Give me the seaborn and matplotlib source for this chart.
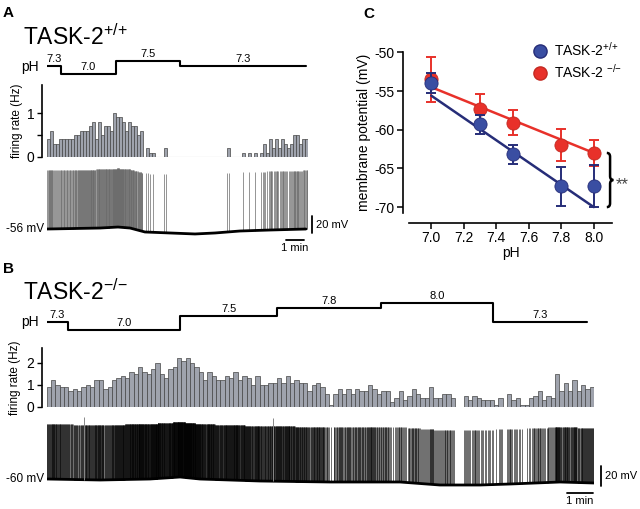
import numpy as np
import matplotlib
matplotlib.use("Agg")
import matplotlib.pyplot as plt
from matplotlib.lines import Line2D
from matplotlib.path import Path
from matplotlib.patches import PathPatch
import seaborn as sns

W, H = 640, 509
BIN = 10 / 60  # 10 s bins, in min

# A: TASK-2 +/+  (firing rate per 10 s bin, Hz)
a_rate = [0.4, 0.6, 0.3, 0.3, 0.4, 0.4, 0.4, 0.4, 0.4, 0.5, 0.5, 0.6, 0.6, 0.6, 0.7, 0.8,
          0.4, 0.8, 0.5, 0.7, 0.7, 0.6, 1.0, 0.9, 0.9, 0.8, 0.6, 0.8, 0.7, 0.7, 0.5, 0.6,
          0.0, 0.2, 0.1, 0.1, 0.0, 0.0, 0.0, 0.2,
          0, 0, 0, 0, 0, 0, 0, 0, 0, 0, 0, 0, 0, 0, 0, 0, 0, 0, 0, 0,
          0.2, 0, 0, 0, 0, 0.1, 0, 0.1, 0, 0.1, 0, 0.1,
          0.3, 0.1, 0.4, 0.2, 0.4, 0.2, 0.4, 0.3, 0.2, 0.3, 0.5, 0.5, 0.3, 0.4, 0.4]
a_ph_t = [0, 0.79, 3.85, 7.41, 14.4]
a_ph = [7.3, 7.0, 7.5, 7.3]
a_base_t = [0, 2.96, 3.96, 4.63, 5.46, 6.85, 8.24, 9.35, 10.74, 12.41, 14.4]
a_base_mv = [-56, -54.8, -53.6, -54.8, -59.6, -60.8, -62, -60.8, -58.4, -57.2, -56]
a_spike_amp = 71

# B: TASK-2 -/-
b_rate = [0.9, 1.2, 1.0, 0.9, 0.9, 0.7, 0.8, 0.7, 0.9, 1.0,
          0.9, 1.2, 1.2, 0.8, 0.9, 1.2, 1.3, 1.4, 1.3, 1.6,
          1.5, 1.8, 1.6, 1.5, 1.7, 2.0, 1.5, 1.3, 1.7, 1.8,
          2.2, 2.1, 2.2, 2.0, 1.8, 1.6, 1.2, 1.6, 1.4, 1.2,
          1.2, 1.4, 1.3, 1.6, 1.2, 1.4, 1.3, 1.0, 1.4, 1.0,
          1.0, 1.1, 1.1, 1.3, 1.1, 1.4, 1.1, 1.2, 1.1, 1.1,
          0.7,
          1.0, 1.1, 0.9, 0.6, 0.1, 0.6, 0.8, 0.6, 0.8,
          0.6, 0.8, 0.7, 0.7, 1.0, 0.8, 0.6, 0.7, 0.7, 0.2,
          0.4, 0.7, 0.3, 0.5, 0.8, 0.6, 0.4, 0.4, 0.9, 0.4,
          0.4, 0.6, 0.6, 0.4, 0.0, 0.0, 0.5, 0.3, 0.5, 0.4,
          0.3, 0.3, 0.3, 0.1, 0.4, 0.0, 0.6, 0.3, 0.4, 0.1,
          0.1, 0.4, 0.5, 0.7, 0.3, 0.5, 0.4, 1.5, 0.7, 1.1,
          0.7, 1.2, 0.7, 1.0, 0.8, 0.9]
b_ph_t = [0, 0.82, 5.12, 8.84, 12.82, 17.11, 20.73]
b_ph = [7.3, 7.0, 7.5, 7.8, 8.0, 7.3]
b_base_t = [0, 2.05, 3.96, 5.12, 5.88, 8.18, 10.87, 13.56, 15.09, 16.63, 17.78, 19.70, 21.0]
b_base_mv = [-60, -61, -60, -58, -60, -62, -63, -63, -66, -66, -65, -63, -64]
b_spike_amp = 55
b_tall_t = [1.43, 8.68]
b_tall_amp = 63

# C: membrane potential vs pH
ph = [7.0, 7.3, 7.5, 7.8, 8.0]
wt_mean = [-54.0, -59.3, -63.2, -67.3, -67.3]
wt_sem = [1.3, 1.2, 1.2, 2.5, 2.7]
ko_mean = [-53.5, -57.3, -59.1, -62.0, -63.0]
ko_sem = [2.9, 1.9, 1.6, 2.1, 1.7]
fit_ph = [7.0, 8.0]
wt_fit = [-55.6, -70.0]
ko_fit = [-54.5, -63.0]
ph_ticks = [7.0, 7.2, 7.4, 7.6, 7.8, 8.0]
mv_ticks = [-50, -55, -60, -65, -70]

BLUE, BLUE_DK = "#3a4ea2", "#262d78"
RED, RED_DK = "#e8312a", "#c32a22"

sns.set_style("ticks", {"axes.edgecolor": "black", "xtick.color": "black",
                        "ytick.color": "black", "text.color": "black",
                        "axes.labelcolor": "black"})
plt.rcParams["font.family"] = ["Liberation Sans", "DejaVu Sans"]
plt.rcParams["mathtext.fontset"] = "custom"
plt.rcParams["mathtext.rm"] = "Liberation Sans"
plt.rcParams["mathtext.default"] = "regular"

WT_LABEL = "TASK-2$^{{+}/{+}}$"
KO_LABEL = "TASK-2$^{{-}/{-}}$"


def px_rect(x0, y0, x1, y1):
    return [x0 / W, 1 - y1 / H, (x1 - x0) / W, (y1 - y0) / H]


def fig_text(fig, x, y, s, **kw):
    fig.text(x / W, 1 - y / H, s, **kw)


def plot_ph(ax, t, levels, ylim):
    sns.lineplot(x=t, y=list(levels) + [levels[-1]], drawstyle="steps-post",
                 color="black", lw=1.5, ax=ax)
    for t0, t1, lv in zip(t[:-1], t[1:], levels):
        ax.annotate(f"{lv:.1f}", ((t0 + t1) / 2, lv), xytext=(0, 1.5),
                    textcoords="offset points", ha="center", va="bottom", fontsize=8)
    ax.set_ylim(*ylim)
    ax.axis("off")


def plot_rate(ax, rate, ymax, ticks, labels, zero_line):
    t = (np.arange(len(rate)) + 0.5) * BIN
    sns.barplot(x=t, y=rate, native_scale=True, width=1, color="#9fa3ad",
                saturation=1, edgecolor="#454545", linewidth=0.5, errorbar=None, ax=ax)
    for p in ax.patches:
        if p.get_height() <= 0:
            p.set_visible(False)
    if zero_line:
        ax.axhline(0, color="#a8a8a8", lw=0.8, zorder=0)
    ax.set_xlim(0, len(rate) * BIN)
    ax.set_ylim(0, ymax)
    ax.set_yticks(ticks)
    ax.set_yticklabels(labels, fontsize=8)
    ax.set_xticks([])
    ax.set_xlabel("")
    ax.set_ylabel("firing rate (Hz)", fontsize=8.5)
    ax.tick_params(axis="y", length=3.5, width=1, pad=2)
    ax.spines["left"].set_linewidth(1.2)
    sns.despine(ax=ax, bottom=True, offset={"left": 3.5})


def plot_trace(ax, rate, base_t, base_mv, amp, ylim, color, lw):
    spikes = []
    for i, r in enumerate(rate):
        n = int(round(r * 10))
        spikes += [(i + (k + 0.5) / n) * BIN for k in range(n)]
    spikes = np.array(spikes)
    foot = np.interp(spikes, base_t, base_mv)
    ax.vlines(spikes, foot, foot + amp, color=color, lw=lw)
    sns.lineplot(x=base_t, y=base_mv, color="black", lw=2.0, ax=ax)
    ax.set_xlim(0, len(rate) * BIN)
    ax.set_ylim(*ylim)
    ax.axis("off")


def scale_bars(ax, xv, yv, xh, yh):
    ax.plot([xv, xv], [yv, yv + 20], color="black", lw=1.3, clip_on=False)
    ax.annotate("20 mV", (xv, yv + 10), xytext=(3, 0), textcoords="offset points",
                ha="left", va="center", fontsize=8, annotation_clip=False)
    ax.plot([xh, xh + 1], [yh, yh], color="black", lw=1.3, clip_on=False)
    ax.annotate("1 min", (xh + 0.5, yh), xytext=(0, -2), textcoords="offset points",
                ha="center", va="top", fontsize=8, annotation_clip=False)


fig = plt.figure(figsize=(6.4, 5.09), dpi=100)

# ---------------- A
a_end = len(a_rate) * BIN
ax = fig.add_axes(px_rect(46.7, 50, 307.7, 80))
plot_ph(ax, a_ph_t, a_ph, (6.77, 7.92))
ax.set_xlim(0, a_end)
ax = fig.add_axes(px_rect(46.7, 85, 307.7, 157))
plot_rate(ax, a_rate, 1.64, [0, 0.5, 1], ["0", "", "1"], True)
ax.yaxis.set_label_coords(-0.092, 0.5)
ax = fig.add_axes(px_rect(46.7, 160, 307.7, 240))
plot_trace(ax, a_rate, a_base_t, a_base_mv, a_spike_amp, (-69.3, 27.6), "#6a6a6a", 0.5)
scale_bars(ax, 14.74, -60.8, 13.3, -69.3)

fig_text(fig, 3, 17, "A", fontsize=11, fontweight="bold")
fig_text(fig, 23, 45, WT_LABEL, fontsize=16.5)
fig_text(fig, 39, 71, "pH", fontsize=10, ha="right")
fig_text(fig, 44, 229, "-56 mV", fontsize=8.5, ha="right", va="center")

# ---------------- B
b_end = len(b_rate) * BIN
ax = fig.add_axes(px_rect(46.7, 290, 594, 336))
plot_ph(ax, b_ph_t, b_ph, (6.78, 8.46))
ax.set_xlim(0, b_end)
ax = fig.add_axes(px_rect(46.7, 348, 594, 406.7))
plot_rate(ax, b_rate, 2.67, [0, 1, 2], ["0", "1", "2"], False)
ax.yaxis.set_label_coords(-0.047, 0.5)
ax = fig.add_axes(px_rect(46.7, 412, 594, 495))
plot_trace(ax, b_rate, b_base_t, b_base_mv, b_spike_amp, (-76, 7), "black", 0.4)
foot = np.interp(b_tall_t, b_base_t, b_base_mv)
ax.vlines(b_tall_t, foot, foot + b_tall_amp, color="#888888", lw=0.7)
scale_bars(ax, 21.26, -67, 19.95, -74)

fig_text(fig, 3, 273, "B", fontsize=11, fontweight="bold")
fig_text(fig, 23, 300, KO_LABEL, fontsize=16.5)
fig_text(fig, 39, 326, "pH", fontsize=10, ha="right")
fig_text(fig, 44, 479, "-60 mV", fontsize=8.5, ha="right", va="center")

# ---------------- C
ax = fig.add_axes(px_rect(409.3, 52.3, 611.7, 213.3))
ax.errorbar(ph, ko_mean, yerr=ko_sem, fmt="none", ecolor=RED, elinewidth=1.4,
            capsize=3.6, capthick=1.4, zorder=2, clip_on=False)
sns.lineplot(x=fit_ph, y=ko_fit, color=RED, lw=1.8, ax=ax, zorder=2.5)
sns.scatterplot(x=ph, y=ko_mean, color=RED, s=90, edgecolor=RED_DK, linewidth=0.6,
                ax=ax, zorder=3, clip_on=False)
ax.errorbar(ph, wt_mean, yerr=wt_sem, fmt="none", ecolor=BLUE_DK, elinewidth=1.4,
            capsize=3.6, capthick=1.4, zorder=3.5, clip_on=False)
sns.lineplot(x=fit_ph, y=wt_fit, color=BLUE_DK, lw=1.8, ax=ax, zorder=3.6)
sns.scatterplot(x=ph, y=wt_mean, color=BLUE, s=90, edgecolor=BLUE_DK, linewidth=0.6,
                ax=ax, zorder=4, clip_on=False)

ax.set_xlim(6.865, 8.11)
ax.set_ylim(-70.8, -50)
ax.set_xticks(ph_ticks)
ax.set_xticklabels([f"{v:.1f}" for v in ph_ticks], fontsize=9)
ax.set_yticks(mv_ticks)
ax.set_yticklabels([str(v) for v in mv_ticks], fontsize=8.5)
ax.set_xlabel("pH", fontsize=10, labelpad=1)
ax.set_ylabel("membrane potential (mV)", fontsize=10, labelpad=2)
ax.tick_params(length=4, width=1.1, pad=2)
for s in ["left", "bottom"]:
    ax.spines[s].set_linewidth(1.2)
sns.despine(ax=ax, offset={"left": 4.75, "bottom": 6.8})

handles = [Line2D([], [], marker="o", ls="", markersize=9.5, markerfacecolor=BLUE,
                  markeredgecolor=BLUE_DK),
           Line2D([], [], marker="o", ls="", markersize=9.5, markerfacecolor=RED,
                  markeredgecolor=RED_DK)]
ax.legend(handles, [WT_LABEL, "TASK-2 $^{{-}/{-}}$"], loc="upper left",
          bbox_to_anchor=(0.61, 1.07), frameon=False, handlelength=1,
          handletextpad=0.5, labelspacing=0.3, borderaxespad=0, borderpad=0,
          fontsize=10)

# significance brace
xb, dx, dy = 8.08, 0.02, 0.5
yt, yb = ko_mean[-1], wt_mean[-1] - wt_sem[-1]
ym = (yt + yb) / 2
verts = [(xb, yt), (xb + dx, yt), (xb + dx, yt - dy), (xb + dx, ym + dy),
         (xb + dx, ym), (xb + 2 * dx, ym), (xb + dx, ym), (xb + dx, ym - dy),
         (xb + dx, yb + dy), (xb + dx, yb), (xb, yb)]
codes = [Path.MOVETO, Path.CURVE3, Path.CURVE3, Path.LINETO, Path.CURVE3, Path.CURVE3,
         Path.CURVE3, Path.CURVE3, Path.LINETO, Path.CURVE3, Path.CURVE3]
ax.add_patch(PathPatch(Path(verts, codes), fill=False, lw=1.8, edgecolor="black",
                       clip_on=False))
ax.text(xb + 2.7 * dx, ym - 0.6, "**", fontsize=12, color="#444444", va="center",
        ha="left", clip_on=False)

fig_text(fig, 363, 18, "C", fontsize=11, fontweight="bold")

fig.savefig("out.png", dpi=100)
plt.close(fig)
